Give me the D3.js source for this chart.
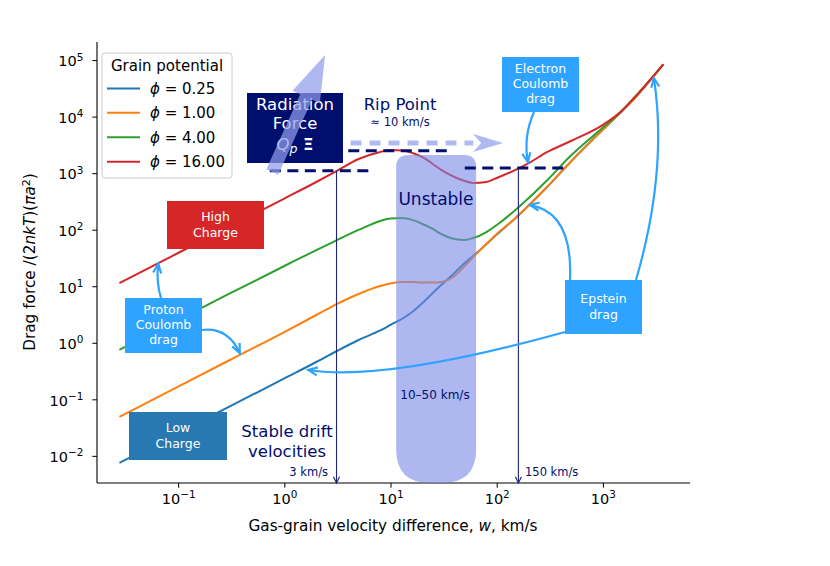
<!DOCTYPE html>
<html>
<head>
<meta charset="utf-8">
<script src="https://cdn.jsdelivr.net/npm/d3@7"></script>
<style>
  body { margin: 0; background: #fff; }
  text { font-family: "DejaVu Sans", sans-serif; }
</style>
</head>
<body>
<svg id="chart" width="830" height="566"></svg>
<script>
// gas-grain velocity difference w (km/s)
const velocity = [0.028, 0.1, 0.3, 1, 2, 3, 5, 8, 10, 13, 16, 20, 25, 30, 40, 50, 60, 80, 100, 150, 200, 300, 500, 1000, 1500, 2000, 3700]

// drag force / (2nkT)(pi a^2), one array per grain potential
const drag025 = [0.0075, 0.0254, 0.0733, 0.234, 0.457, 0.687, 1.12, 1.65, 2.07, 2.69, 3.51, 5.06, 7.59, 10.5, 17.2, 25.7, 34.3, 55.8, 82.2, 160, 268, 575, 1600, 5900, 12300, 21300, 84000]
const drag1 = [0.0488, 0.168, 0.486, 1.55, 3.1, 4.67, 7.3, 10.1, 11.2, 11.9, 11.9, 11.6, 11.6, 11.9, 15.2, 22.8, 32.9, 55.8, 84, 160, 268, 581, 1610, 5910, 12400, 21400, 84000]
const drag4 = [0.75, 2.53, 7.3, 22.8, 43.6, 63, 99, 143, 158, 161, 149, 126, 103, 84, 68.5, 65.8, 71.3, 91, 121, 223, 363, 759, 2055, 6410, 12600, 22200, 84000]
const drag16 = [11.4, 38.7, 112, 356, 698, 1050, 1780, 2370, 2570, 2510, 2280, 1930, 1450, 1140, 855, 728, 670, 698, 822, 1140, 1510, 2370, 3710, 7160, 12600, 22200, 84000]

const potentials = ['0.25', '1.00', '4.00', '16.00']
const colors = ['#1f77b4', '#ff7f0e', '#2ca02c', '#d62728']
const series = [drag025, drag1, drag4, drag16]

const xMajor = [0.1, 1, 10, 100, 1000]
const yMajor = [0.01, 0.1, 1, 10, 100, 1000, 10000, 100000]

// annotation anchors in data units
const ripLevel = 2500, ripFrom = 4, ripTo = 38
const lowLevel = 1100, lowFrom = 0.73, lowTo = 7.1
const highLevel = 1230, highFrom = 50, highTo = 470
const stableLow = 3.1, stableHigh = 160
const unstableFrom = 11.3, unstableTo = 64, unstableTop = 2100

const NAVY = '#000e6e'
const SKY = '#2ea3ff'

const svg = d3.select('#chart')
const x = d3.scaleLog().domain([0.01722, 6607]).range([97, 690])
const y = d3.scaleLog().domain([0.00331, 208930]).range([483, 42])

// ---- axes
function supLabel(sel, v) {
  const e = Math.round(Math.log10(v))
  sel.text(null)
  sel.append('tspan').text('10')
  sel.append('tspan').attr('dy', '-0.55em').attr('font-size', '0.72em')
    .text(e < 0 ? '\u2212' + (-e) : e)
}

const xMinor = x.ticks().filter(v => !xMajor.some(m => Math.abs(m - v) / m < 1e-6))
const yMinor = y.ticks().filter(v => !yMajor.some(m => Math.abs(m - v) / m < 1e-6))

const gx = svg.append('g').attr('transform', 'translate(0,483)')
gx.call(d3.axisBottom(x).tickValues(xMinor).tickSize(2.7).tickFormat(''))
gx.call(d3.axisBottom(x).tickValues(xMajor).tickSize(4.7).tickPadding(6))
gx.selectAll('.tick text').attr('font-size', 14.5).attr('font-family', 'DejaVu Sans')
  .attr('fill', '#000').each(function (d) { supLabel(d3.select(this), d) })
gx.selectAll('.domain').attr('d', 'M97,0H690')

const gy = svg.append('g').attr('transform', 'translate(97,0)')
gy.call(d3.axisLeft(y).tickValues(yMinor).tickSize(2.7).tickFormat(''))
gy.call(d3.axisLeft(y).tickValues(yMajor).tickSize(4.7).tickPadding(9))
gy.selectAll('.tick text').attr('font-size', 14.5).attr('font-family', 'DejaVu Sans')
  .attr('fill', '#000').attr('dy', '0.4em').each(function (d) { supLabel(d3.select(this), d) })
gy.selectAll('.domain').attr('d', 'M0,42V483')
svg.selectAll('.tick line').attr('stroke', '#000').attr('stroke-width', 1)
svg.selectAll('.domain').attr('stroke', '#000').attr('stroke-width', 1.1)

svg.append('text').attr('x', 393).attr('y', 531).attr('text-anchor', 'middle')
  .attr('font-size', 15.3)
  .call(t => {
    t.append('tspan').text('Gas-grain velocity difference, ')
    t.append('tspan').attr('font-style', 'italic').text('w')
    t.append('tspan').text(', km/s')
  })

svg.append('text').attr('transform', 'translate(35,262) rotate(-90)').attr('text-anchor', 'middle')
  .attr('font-size', 15.3)
  .call(t => {
    t.append('tspan').text('Drag force /(2')
    t.append('tspan').attr('font-style', 'italic').text('nkT')
    t.append('tspan').text(')(')
    t.append('tspan').attr('font-style', 'italic').text('\u03c0a')
    t.append('tspan').attr('dy', '-0.5em').attr('font-size', '0.72em').text('2')
    t.append('tspan').attr('dy', '0.35em').text(')')
  })

// ---- curves
const line = d3.line().x(d => x(d[0])).y(d => y(d[1])).curve(d3.curveMonotoneX)
series.forEach((s, i) => {
  svg.append('path').datum(velocity.map((w, j) => [w, s[j]]))
    .attr('d', line).attr('fill', 'none').attr('stroke', colors[i]).attr('stroke-width', 2)
})

// ---- unstable band (on top of the curves, translucent)
{
  const x0 = x(unstableFrom), x1 = x(unstableTo), t = y(unstableTop), b = 483
  const rt = 12, rb = 34
  svg.append('path')
    .attr('d', `M${x0},${t + rt} Q${x0},${t} ${x0 + rt},${t} L${x1 - rt},${t} Q${x1},${t} ${x1},${t + rt}
      L${x1},${b - rb} Q${x1},${b} ${x1 - rb},${b} L${x0 + rb},${b} Q${x0},${b} ${x0},${b - rb} Z`)
    .attr('fill', 'rgb(120,135,230)').attr('opacity', 0.6)
}

// ---- arrow helpers
function openHead(g, tip, from, len, ang, color, width) {
  const a = Math.atan2(tip[1] - from[1], tip[0] - from[0])
  const p1 = [tip[0] - len * Math.cos(a - ang), tip[1] - len * Math.sin(a - ang)]
  const p2 = [tip[0] - len * Math.cos(a + ang), tip[1] - len * Math.sin(a + ang)]
  g.append('path').attr('d', `M${p1}L${tip}L${p2}`).attr('fill', 'none')
    .attr('stroke', color).attr('stroke-width', width).attr('stroke-linejoin', 'miter')
}
function curvedArrow(start, ctrl, tip) {
  svg.append('path').attr('d', `M${start}Q${ctrl} ${tip}`).attr('fill', 'none')
    .attr('stroke', SKY).attr('stroke-width', 2.2)
  openHead(svg, tip, ctrl, 10, 0.42, SKY, 2.2)
}

// ---- dashed threshold lines
const dashed = [[lowFrom, lowTo, lowLevel], [ripFrom, ripTo, ripLevel], [highFrom, highTo, highLevel]]
dashed.forEach(d => {
  svg.append('line').attr('x1', x(d[0])).attr('x2', x(d[1])).attr('y1', y(d[2])).attr('y2', y(d[2]))
    .attr('stroke', NAVY).attr('stroke-width', 3).attr('stroke-dasharray', '11,6.5')
})

// vertical stable drift markers
;[[stableLow, lowLevel], [stableHigh, highLevel]].forEach(d => {
  const xx = x(d[0])
  svg.append('line').attr('x1', xx).attr('x2', xx).attr('y1', y(d[1])).attr('y2', 483)
    .attr('stroke', '#1b2580').attr('stroke-width', 1.1)
  openHead(svg, [xx, 483], [xx, 400], 7, 0.45, '#1b2580', 1.1)
})

// rip point dashed arrow
{
  const yy = y(3400), xs = x(4.2), xb = x(60), xt = x(115)
  svg.append('line').attr('x1', xs).attr('x2', xb).attr('y1', yy).attr('y2', yy)
    .attr('stroke', '#b0b9f0').attr('stroke-width', 5).attr('stroke-dasharray', '11,8')
  svg.append('path').attr('d', `M${xb},${yy - 9}L${xt},${yy}L${xb},${yy + 9}L${xb + 8},${yy}Z`)
    .attr('fill', '#b0b9f0')
}

// ---- text boxes
function box(x0, y0, w, h, fill, lines, baselines, size) {
  svg.append('rect').attr('x', x0).attr('y', y0).attr('width', w).attr('height', h).attr('fill', fill)
  lines.forEach((l, i) => {
    svg.append('text').attr('x', x0 + w / 2).attr('y', baselines[i]).attr('text-anchor', 'middle')
      .attr('fill', '#fff').attr('font-size', size).text(l)
  })
}

// radiation force box
svg.append('rect').attr('x', 247).attr('y', 93).attr('width', 96).attr('height', 70).attr('fill', NAVY)
svg.append('text').attr('x', 295).attr('y', 110).attr('text-anchor', 'middle').attr('fill', '#fff')
  .attr('font-size', 16.5).text('Radiation')
svg.append('text').attr('x', 295).attr('y', 129).attr('text-anchor', 'middle').attr('fill', '#fff')
  .attr('font-size', 16.5).text('Force')
svg.append('text').attr('x', 295).attr('y', 150).attr('text-anchor', 'middle').attr('fill', '#fff')
  .attr('font-size', 16.5)
  .call(t => {
    t.append('tspan').attr('font-style', 'italic').text('Q')
    t.append('tspan').attr('font-style', 'italic').attr('font-size', 12.5).attr('dy', 3).text('p')
    t.append('tspan').attr('dy', -3).attr('font-weight', 'bold').text(' \u039e')
  })

// big translucent radiation arrow
{
  const T = [x(0.77), y(1050)], Hd = [x(2.42), y(123000)]
  const dx = Hd[0] - T[0], dy = Hd[1] - T[1], L = Math.hypot(dx, dy)
  const u = [dx / L, dy / L], n = [-u[1], u[0]]
  const sw = 6.5, hw = 15, hl = 46
  const B = [Hd[0] - u[0] * hl, Hd[1] - u[1] * hl]
  const pts = [
    [T[0] + n[0] * sw, T[1] + n[1] * sw], [B[0] + n[0] * sw, B[1] + n[1] * sw],
    [B[0] + n[0] * hw, B[1] + n[1] * hw], Hd,
    [B[0] - n[0] * hw, B[1] - n[1] * hw], [B[0] - n[0] * sw, B[1] - n[1] * sw],
    [T[0] - n[0] * sw, T[1] - n[1] * sw]]
  svg.append('path').attr('d', 'M' + pts.join('L') + 'Z')
    .attr('fill', 'rgb(144,157,235)').attr('opacity', 0.72)
}

box(167, 201, 97, 48, '#d62728', ['High', 'Charge'], [221, 237], 12.5)
box(129, 412, 98, 48, '#2878b1', ['Low', 'Charge'], [432, 448], 12.5)
box(125, 298, 77, 55, SKY, ['Proton', 'Coulomb', 'drag'], [314, 329, 344], 12.5)
box(502, 57, 77, 55, SKY, ['Electron', 'Coulomb', 'drag'], [73, 88, 103], 12.5)
box(565, 280, 77, 54, SKY, ['Epstein', 'drag'], [303, 319], 12.5)

// annotation arrows from the boxes to the curves
curvedArrow([161, 298], [156, 282], [x(0.065), y(24.8)])
curvedArrow([202, 330], [228, 327], [x(0.38), y(0.66)])
curvedArrow([534, 112], [523, 137], [x(197), y(1570)])
curvedArrow([570, 280], [573, 212], [x(206), y(273)])
curvedArrow([636, 280], [668, 170], [x(3020), y(48000)])
curvedArrow([565, 332], [385, 382], [x(1.68), y(0.33)])

// ---- free labels
function label(xx, yy, txt, size, anchor) {
  svg.append('text').attr('x', xx).attr('y', yy).attr('text-anchor', anchor || 'middle')
    .attr('fill', NAVY).attr('font-size', size).text(txt)
}
label(400, 110, 'Rip Point', 16.5)
label(400, 126, '\u2248 10 km/s', 11.5)
label(436, 205, 'Unstable', 17, 'middle')
label(435, 399, '10\u201350 km/s', 12)
label(287, 437, 'Stable drift', 16.5)
label(287, 457, 'velocities', 16.5)
label(328, 476, '3 km/s', 11.5, 'end')
label(525, 476, '150 km/s', 11.5, 'start')

// ---- legend
{
  const g = svg.append('g')
  g.append('rect').attr('x', 102).attr('y', 53).attr('width', 130).attr('height', 125).attr('rx', 3)
    .attr('fill', '#fff').attr('fill-opacity', 0.8).attr('stroke', '#cccccc')
  g.append('text').attr('x', 167).attr('y', 71).attr('text-anchor', 'middle').attr('font-size', 15)
    .text('Grain potential')
  const rows = [88.5, 112.8, 137.3, 161.8]
  potentials.forEach((p, i) => {
    g.append('line').attr('x1', 107).attr('x2', 140).attr('y1', rows[i]).attr('y2', rows[i])
      .attr('stroke', colors[i]).attr('stroke-width', 2)
    g.append('text').attr('x', 150).attr('y', rows[i] + 5.5).attr('font-size', 15)
      .call(t => {
        t.append('tspan').attr('font-style', 'italic').text('\u03d5')
        t.append('tspan').text(' = ' + p)
      })
  })
}
</script>
</body>
</html>
